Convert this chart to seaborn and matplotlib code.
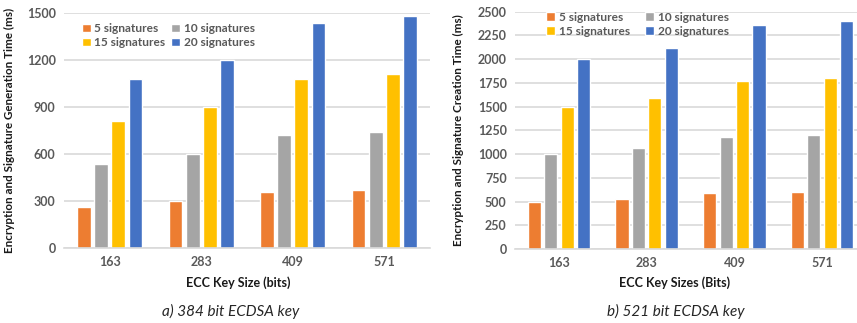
import matplotlib
matplotlib.use("Agg")
import matplotlib.pyplot as plt
import seaborn as sns
import pandas as pd

# Key sizes on the x axis and the signature-count series
key_sizes = ["163", "283", "409", "571"]
series = ["5 signatures", "10 signatures", "15 signatures", "20 signatures"]

# a) 384 bit ECDSA key: encryption + signature generation time (ms)
gen_5 = [265, 300, 360, 370]
gen_10 = [540, 600, 720, 740]
gen_15 = [810, 900, 1080, 1110]
gen_20 = [1080, 1200, 1440, 1480]

# b) 521 bit ECDSA key: encryption + signature creation time (ms)
cre_5 = [500, 530, 590, 600]
cre_10 = [1000, 1060, 1180, 1200]
cre_15 = [1500, 1590, 1770, 1800]
cre_20 = [2000, 2120, 2360, 2400]

colors = ["#ED7D31", "#A5A5A5", "#FFC000", "#4472C4"]


def to_frame(cols):
    rows = []
    for name, vals in zip(series, cols):
        for k, v in zip(key_sizes, vals):
            rows.append({"key": k, "series": name, "value": v})
    return pd.DataFrame(rows)


df_a = to_frame([gen_5, gen_10, gen_15, gen_20])
df_b = to_frame([cre_5, cre_10, cre_15, cre_20])

sns.set_theme(style="white")
plt.rcParams["font.family"] = ["Lato", "DejaVu Sans"]

W, H = 857, 323
fig = plt.figure(figsize=(W / 100, H / 100), dpi=100)


def px_axes(x0, x1, ytop, ybot):
    return fig.add_axes([x0 / W, 1 - ybot / H, (x1 - x0) / W, (ybot - ytop) / H])


ax_a = px_axes(64, 430, 13.3, 248)
ax_b = px_axes(515, 866, 11.7, 249)

tick_color = "#595959"
grid_color = "#D9D9D9"


def style(ax, df, ymax, step, ylabel, xlabel, xlabel_x, caption, caption_x,
          legend_anchor, colspace):
    sns.barplot(data=df, x="key", y="value", hue="series", hue_order=series,
                order=key_sizes, palette=colors, width=0.75, gap=0.2,
                saturation=1, ax=ax, legend=True)
    ax.set_xlim(-0.5, 3.5)
    ax.set_ylim(0, ymax)
    ax.set_yticks(range(0, ymax + 1, step))
    ax.yaxis.grid(True, color=grid_color, linewidth=1.2)
    ax.set_axisbelow(True)
    for s in ["top", "right", "left"]:
        ax.spines[s].set_visible(False)
    ax.spines["bottom"].set_color(grid_color)
    ax.spines["bottom"].set_linewidth(1.2)
    ax.tick_params(axis="both", length=0, colors=tick_color, labelsize=9, pad=6)
    for lbl in ax.get_xticklabels() + ax.get_yticklabels():
        lbl.set_fontweight("bold")
    ax.set_xlabel("")
    ax.set_ylabel(ylabel, fontsize=8.4, fontweight="bold", color="#1a1a1a")
    fig.text(xlabel_x / W, 1 - 283 / H, xlabel, ha="center", va="center",
             fontsize=9, fontweight="bold", color="#1a1a1a")
    fig.text(caption_x / W, 1 - 311 / H, caption, ha="center", va="center",
             fontsize=11, style="italic", color="#262626")
    # legend entries filled row by row: 5 | 10 on top, 15 | 20 below
    handles, labels = ax.get_legend_handles_labels()
    idx = [0, 2, 1, 3]
    leg = ax.legend([handles[i] for i in idx], [labels[i] for i in idx],
                    loc="upper left", bbox_to_anchor=legend_anchor, ncol=2,
                    frameon=False, fontsize=8.6, handlelength=0.75, handleheight=0.75,
                    handletextpad=0.3, columnspacing=colspace, labelspacing=0.25,
                    borderaxespad=0)
    for t in leg.get_texts():
        t.set_color(tick_color)
        t.set_fontweight("bold")


style(ax_a, df_a, 1500, 300, "Encryption and Signature Generation Time (ms)",
      "ECC Key Size (bits)", 238, "a) 384 bit ECDSA key", 231, (0.035, 0.978), 0.5)
style(ax_b, df_b, 2500, 250, "Encryption and Signature Creation Time (ms)",
      "ECC Key Sizes (Bits)", 675, "b) 521 bit ECDSA key", 676, (0.075, 1.02), 1.3)

ax_a.yaxis.set_label_coords(-0.135, 0.5)
ax_b.yaxis.set_label_coords(-0.145, 0.5)

fig.savefig("out.png", dpi=100)
